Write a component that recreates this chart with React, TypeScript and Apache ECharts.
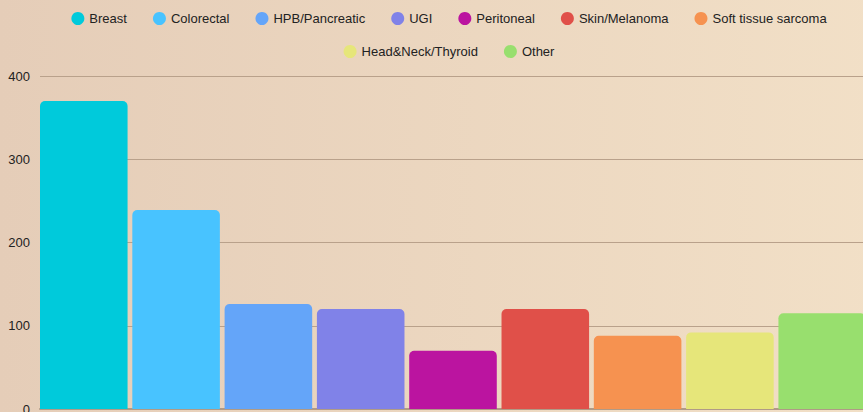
import React, { useEffect, useRef } from "react";
import * as echarts from "echarts";

const seriesNames = [
  "Breast",
  "Colorectal",
  "HPB/Pancreatic",
  "UGI",
  "Peritoneal",
  "Skin/Melanoma",
  "Soft tissue sarcoma",
  "Head&Neck/Thyroid",
  "Other",
];
const seriesValues = [370, 239, 126, 120, 70, 120, 88, 92, 115];
const seriesColors = [
  "#00cadb",
  "#48c3ff",
  "#64a5f9",
  "#8082e8",
  "#bb14a0",
  "#e05049",
  "#f69250",
  "#e6e67a",
  "#98df6e",
];
const categories = ["Cases"];

export default function App() {
  const ref = useRef<HTMLDivElement>(null);
  useEffect(() => {
    document.body.style.margin = "0";
    const chart = echarts.init(ref.current!, null, { renderer: "svg" });
    const textStyle = { color: "#222", fontSize: 13, fontFamily: "Liberation Sans" };
    chart.setOption({
      animation: false,
      backgroundColor: {
        type: "linear",
        x: 0,
        y: 0,
        x2: 1,
        y2: 0,
        colorStops: [
          { offset: 0, color: "#e5cdb8" },
          { offset: 1, color: "#f2e0c7" },
        ],
      },
      legend: [
        {
          data: seriesNames.slice(0, 7),
          top: 7,
          left: "center",
          icon: "circle",
          itemWidth: 13,
          itemHeight: 13,
          itemGap: 26,
          textStyle,
        },
        {
          data: seriesNames.slice(7),
          top: 40,
          left: "center",
          icon: "circle",
          itemWidth: 13,
          itemHeight: 13,
          itemGap: 26,
          textStyle,
        },
      ],
      grid: { left: 40, right: 32, top: 76, bottom: 31, containLabel: false },
      xAxis: {
        type: "category",
        data: categories,
        axisLabel: { show: false },
        axisTick: { show: false },
        axisLine: { lineStyle: { color: "#b09a86", width: 2 } },
      },
      yAxis: {
        type: "value",
        min: 0,
        max: 400,
        interval: 100,
        axisLabel: { color: "#222", fontSize: 13, fontFamily: "Liberation Sans", margin: 10 },
        splitLine: { lineStyle: { color: "#b9a18b", width: 1 } },
        axisLine: { show: false },
        axisTick: { show: false },
      },
      series: seriesNames.map((name, i) => ({
        name,
        type: "bar",
        data: [seriesValues[i]],
        barGap: "5.4%",
        barCategoryGap: "0%",
        itemStyle: { color: seriesColors[i], borderRadius: [5, 5, 0, 0] },
      })),
    });
    return () => chart.dispose();
  }, []);
  return <div ref={ref} style={{ width: 898, height: 440 }} />;
}
